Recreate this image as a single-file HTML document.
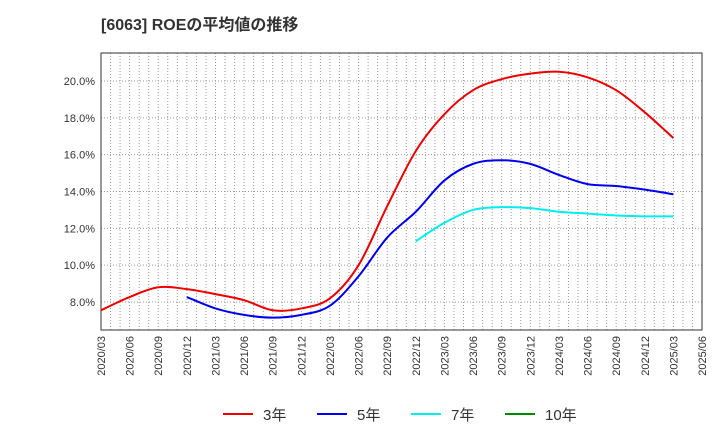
<!DOCTYPE html>
<html><head><meta charset="utf-8"><style>
body{margin:0;background:#fff;font-family:"Liberation Sans","Noto Sans CJK JP",sans-serif;}
svg text{font-family:"Liberation Sans","Noto Sans CJK JP",sans-serif;}
</style></head><body>
<svg id="c" width="720" height="440" xmlns="http://www.w3.org/2000/svg">
<text x="101" y="30" font-size="16" font-weight="bold" fill="#333">[6063]  ROEの平均値の推移</text>
<g id="grid"></g><g id="axes"></g><g id="series"></g><g id="legend"></g>
</svg>
<script>
const xLabels=["2020/03","2020/06","2020/09","2020/12","2021/03","2021/06","2021/09","2021/12","2022/03","2022/06","2022/09","2022/12","2023/03","2023/06","2023/09","2023/12","2024/03","2024/06","2024/09","2024/12","2025/03","2025/06"];
const yTicks=[8,10,12,14,16,18,20];
const s3=[7.55,8.27,8.8,8.7,8.43,8.1,7.55,7.65,8.2,10.0,13.2,16.2,18.2,19.5,20.1,20.4,20.5,20.2,19.5,18.3,16.9];
const s5=[null,null,null,8.27,7.65,7.3,7.15,7.3,7.8,9.4,11.5,12.9,14.6,15.5,15.7,15.5,14.9,14.4,14.3,14.1,13.85];
const s7=[null,null,null,null,null,null,null,null,null,null,null,11.3,12.3,13.0,13.15,13.1,12.9,12.8,12.7,12.65,12.65];
const s10=[];
const L=101,R=702,T=53,B=330;
const xs=i=>L+(R-L)/21*i;
const ys=v=>302-(v-8)*(302-81)/12;
const NS="http://www.w3.org/2000/svg";
function mk(t,a,p){const e=document.createElementNS(NS,t);for(const k in a)e.setAttribute(k,a[k]);p.appendChild(e);return e;}
const grid=document.getElementById('grid'),axes=document.getElementById('axes'),ser=document.getElementById('series'),leg=document.getElementById('legend');
for(let m=1;m<63;m++){const x=L+(R-L)/63*m;
const g=mk('line',{x1:x,x2:x,y1:T,y2:B,stroke:'#999','stroke-dasharray':'1,2','stroke-width':1},grid);

}
yTicks.forEach(v=>{const y=ys(v);
const g=mk('line',{x1:L,x2:R,y1:y,y2:y,stroke:'#999','stroke-dasharray':'1,2'},grid);


const t=mk('text',{x:L-6,y:y+4,'text-anchor':'end','font-size':11,fill:'#333'},axes);t.textContent=v.toFixed(1)+'%';

});
const fr=mk('rect',{x:L,y:T,width:R-L,height:B-T,fill:'none',stroke:'#333'},axes);


xLabels.forEach((l,i)=>{const x=xs(i);const t=mk('text',{transform:`translate(${x+4},${B+6}) rotate(-90)`,'text-anchor':'end','font-size':11,fill:'#333'},axes);t.textContent=l;

});
function path(arr,color,name){const p=[];arr.forEach((v,i)=>{if(v!=null)p.push([xs(i),ys(v)]);});if(p.length<2)return;
let d=`M${p[0][0]},${p[0][1]}`;for(let i=0;i<p.length-1;i++){const p0=p[i-1]||p[i],p1=p[i],p2=p[i+1],p3=p[i+2]||p2;
d+=` C${p1[0]+(p2[0]-p0[0])/6},${p1[1]+(p2[1]-p0[1])/6} ${p2[0]-(p3[0]-p1[0])/6},${p2[1]-(p3[1]-p1[1])/6} ${p2[0]},${p2[1]}`;}
const e=mk('path',{d,fill:'none',stroke:color,'stroke-width':2},ser);

}
path(s3,'#ee0000','line-3yr');path(s5,'#0000ee','line-5yr');path(s7,'#00eeee','line-7yr');path(s10,'#008800','line-10yr');
[['3年','#ee0000',223],['5年','#0000ee',317],['7年','#00eeee',411],['10年','#008800',505]].forEach(([n,c,x])=>{
const g=mk('g',{},leg);


mk('line',{x1:x,x2:x+30,y1:414,y2:414,stroke:c,'stroke-width':2},g);
const t=mk('text',{x:x+40,y:420,'font-size':15,fill:'#333'},g);t.textContent=n;});
</script>
</body></html>
